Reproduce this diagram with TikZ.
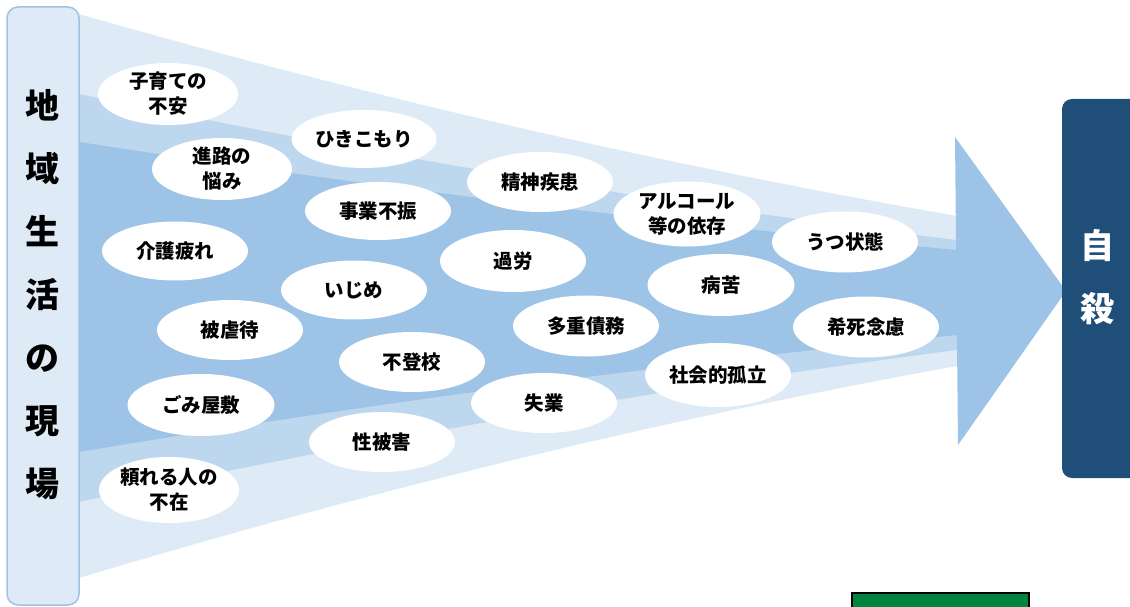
\documentclass[tikz,border=0pt]{standalone}
\usepackage{fontspec}
\setmainfont{Noto Sans CJK JP}
\usetikzlibrary{shapes.geometric}
\definecolor{blA}{HTML}{DEEBF7}
\definecolor{blB}{HTML}{BDD7EE}
\definecolor{blC}{HTML}{9DC3E6}
\definecolor{navy}{HTML}{1F4E79}
\definecolor{grn}{HTML}{00853F}
\newcommand\bubfont{\fontsize{19.5}{25}\selectfont\bfseries}
\newcommand\bigfont{\fontsize{34}{63}\selectfont\bfseries}
\tikzset{
  bub/.style={ellipse, fill=white, draw=none, inner sep=0pt, minimum width=146pt, minimum height=60pt, align=center, font=\bubfont},
  bigtxt/.style={align=center, font=\bigfont, inner sep=0pt}
}
\begin{document}
\begin{tikzpicture}[x=1pt,y=-1pt]
\useasboundingbox (0,0) rectangle (1130,607);
\clip (0,0) rectangle (1130,607);
% funnel bands
\fill[blA] (79,14) .. controls (372,98) and (664,165) .. (957,216) -- (957,366) .. controls (664,419) and (372,490) .. (79,578) -- cycle;
\fill[blB] (79,94) .. controls (372,155) and (664,204) .. (957,240) -- (957,350) .. controls (664,388) and (372,439) .. (79,502) -- cycle;
\fill[blC] (79,142) .. controls (372,187) and (664,223) .. (957,250) -- (957,335) .. controls (664,364) and (372,403) .. (79,452) -- cycle;
% arrow head
\fill[blC] (955,137) -- (1066,291) -- (958,445) -- cycle;
% bubbles
\node[bub, minimum width=140pt, minimum height=62pt] (b1) at (168,94) {子育ての\\不安};
\node[bub, minimum width=140pt, minimum height=62pt] (b2) at (222,169) {進路の\\悩み};
\node[bub, minimum width=145pt, minimum height=58pt] (b3) at (364,139) {ひきこもり};
\node[bub] (b4) at (540,182) {精神疾患};
\node[bub, minimum height=58pt] (b5) at (378,211) {事業不振};
\node[bub, minimum width=147pt, minimum height=65pt] (b6) at (687,214) {アルコール\\等の依存};
\node[bub, minimum height=61pt] (b7) at (845,242) {うつ状態};
\node[bub, minimum height=59pt] (b8) at (175,251) {介護疲れ};
\node[bub, minimum height=62pt] (b9) at (513,261) {過労};
\node[bub, minimum width=147pt, minimum height=62pt] (b10) at (721,285) {病苦};
\node[bub, minimum height=59pt] (b11) at (354,290) {いじめ};
\node[bub] (b12) at (230,330) {被虐待};
\node[bub, minimum height=61pt] (b13) at (586,326) {多重債務};
\node[bub, minimum height=61pt] (b14) at (866,327) {希死念慮};
\node[bub] (b15) at (412,362) {不登校};
\node[bub, minimum height=64pt] (b16) at (718,375) {社会的孤立};
\node[bub, minimum width=147pt, minimum height=62pt] (b17) at (201,405) {ごみ屋敷};
\node[bub] (b18) at (544,403) {失業};
\node[bub] (b19) at (382,442) {性被害};
\node[bub, minimum width=140pt, minimum height=66pt] (b20) at (169,490) {頼れる人の\\不在};
% left bar
\node[draw=blC, fill=blA, line width=1.5pt, rounded corners=11pt, minimum width=72pt, minimum height=598pt, inner sep=0pt] (bar) at (43,306) {};
\node[bigtxt] (bartxt) at (42,295) {地\\域\\生\\活\\の\\現\\場};
% goal box
\node[fill=navy, rounded corners=10pt, minimum width=90pt, minimum height=379pt, inner sep=0pt] (goal) at (1107,288.5) {};
\node[bigtxt, text=white] (goaltxt) at (1097,277) {自\\殺};
% green box at the bottom
\node[draw=black, fill=grn, line width=1.2pt, minimum width=177pt, minimum height=40pt, inner sep=0pt] (gbox) at (940.5,613) {};
\end{tikzpicture}
\end{document}
